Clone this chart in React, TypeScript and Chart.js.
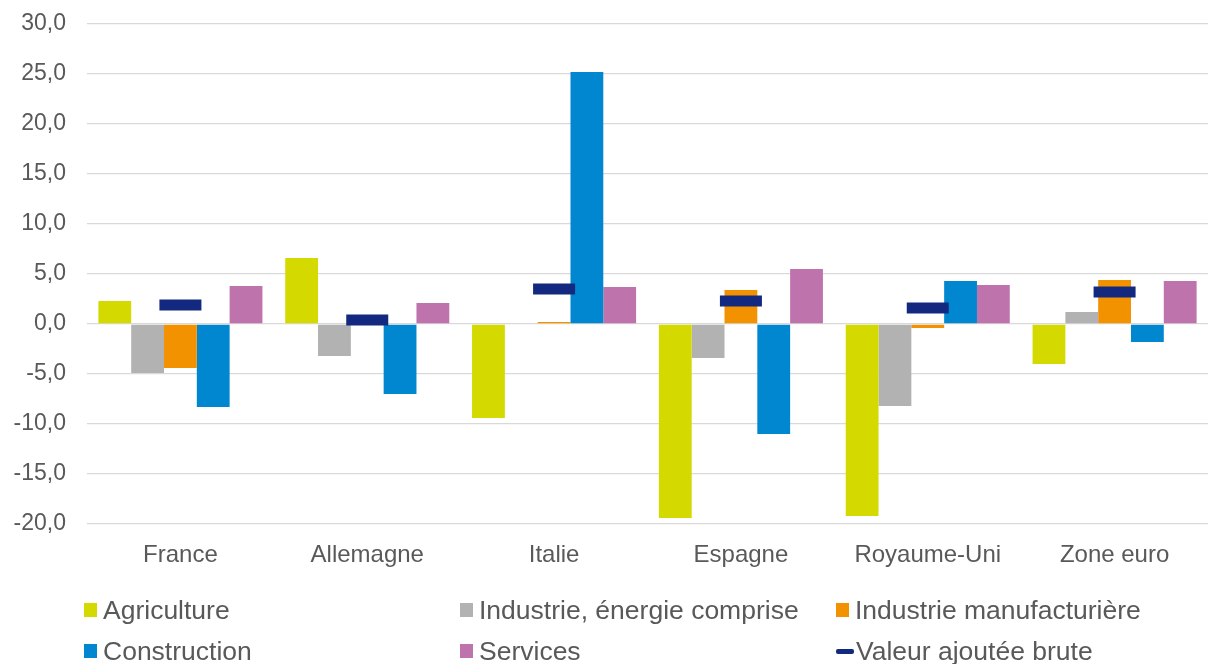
import React, { useEffect, useRef } from "react";
import { Chart, registerables } from "chart.js";

Chart.register(...registerables);

const categories = ["France", "Allemagne", "Italie", "Espagne", "Royaume-Uni", "Zone euro"];
const agriculture = [2.3, 6.6, -9.4, -19.4, -19.2, -4.0];
const industrie = [-4.9, -3.2, 0.0, -3.4, -8.2, 1.2];
const manufacturiere = [-4.4, 0.0, 0.2, 3.4, -0.4, 4.4];
const construction = [-8.3, -7.0, 25.2, -11.0, 4.3, -1.8];
const services = [3.8, 2.1, 3.7, 5.5, 3.9, 4.3];
const vab = [1.9, 0.4, 3.5, 2.3, 1.6, 3.2];
const yTicks = { min: -20, max: 30, step: 5 };

const seriesNames = [
  "Agriculture",
  "Industrie, énergie comprise",
  "Industrie manufacturière",
  "Construction",
  "Services",
  "Valeur ajoutée brute",
];
const seriesColors = ["#d4d900", "#b2b2b2", "#f39200", "#0087d0", "#be73ad", "#13287f"];

const FONT = "'Liberation Sans', Arial, sans-serif";
const TEXT = "#595959";

export default function App() {
  const ref = useRef<HTMLCanvasElement | null>(null);

  useEffect(() => {
    if (!ref.current) return;
    const barSeries = [agriculture, industrie, manufacturiere, construction, services];
    const datasets: any[] = barSeries.map((d, i) => ({
      type: "bar",
      label: seriesNames[i],
      data: d,
      backgroundColor: seriesColors[i],
      borderWidth: 0,
      order: 1,
      barPercentage: 1,
      categoryPercentage: 0.878,
    }));
    datasets.push({
      type: "line",
      label: seriesNames[5],
      data: vab,
      showLine: false,
      pointStyle: "line",
      pointRadius: 21,
      pointHoverRadius: 21,
      borderColor: seriesColors[5],
      backgroundColor: seriesColors[5],
      borderWidth: 11,
      pointBorderWidth: 11,
      order: 0,
    });
    const chart = new Chart(ref.current, {
      type: "bar",
      data: { labels: categories, datasets },
      options: {
        animation: false,
        responsive: false,
        maintainAspectRatio: false,
        layout: { autoPadding: false, padding: { top: 24, bottom: 90, left: 0, right: 0 } },
        plugins: { legend: { display: false }, tooltip: { enabled: false } },
        scales: {
          x: {
            grid: { display: false, drawTicks: false },
            border: { display: false },
            ticks: { color: TEXT, font: { family: FONT, size: 24 }, padding: 17, maxRotation: 0 },
            afterFit: (s: any) => {
              s.height = 50;
              s.paddingLeft = 0;
              s.paddingRight = 0;
            },
          },
          y: {
            min: yTicks.min,
            max: yTicks.max,
            grid: { color: "#d9d9d9", lineWidth: 1.3, drawTicks: false },
            border: { display: false },
            ticks: {
              stepSize: yTicks.step,
              color: TEXT,
              font: { family: FONT, size: 23 },
              padding: 21,
              callback: (v: any) => Number(v).toFixed(1).replace(".", ","),
            },
            afterFit: (s: any) => {
              s.width = 87;
              s.paddingTop = 0;
              s.paddingBottom = 0;
            },
          },
        },
      },
    });
    return () => chart.destroy();
  }, []);

  const colLeft = [84, 460, 836];
  const rowCenter = [610, 651];

  return (
    <div style={{ position: "absolute", left: 0, top: 0, width: 1208, height: 664, background: "#fff" }}>
      <canvas ref={ref} width={1208} height={664} style={{ position: "absolute", left: 0, top: 0 }} />
      {seriesNames.map((name, i) => {
        const col = i % 3;
        const row = Math.floor(i / 3);
        const isLine = i === 5;
        return (
          <div
            key={name}
            style={{
              position: "absolute",
              left: colLeft[col],
              top: rowCenter[row] - 16,
              height: 32,
              display: "flex",
              alignItems: "center",
              fontFamily: FONT,
              fontSize: 26.5,
              color: TEXT,
              whiteSpace: "nowrap",
            }}
          >
            <span
              style={{
                display: "inline-block",
                width: isLine ? 18 : 13,
                height: isLine ? 5 : 14,
                borderRadius: isLine ? 2 : 0,
                background: seriesColors[i],
                marginRight: isLine ? 2 : 6,
              }}
            />
            <span>{name}</span>
          </div>
        );
      })}
    </div>
  );
}
